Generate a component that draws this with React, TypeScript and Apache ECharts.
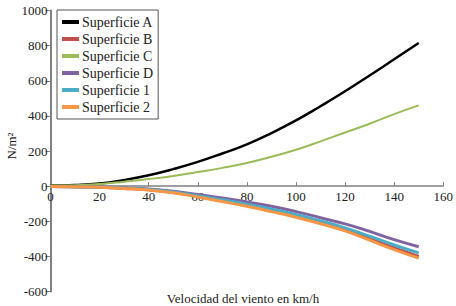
import React, { useEffect, useRef } from "react";
import * as echarts from "echarts";

const speeds = [0, 10, 20, 30, 40, 50, 60, 70, 80, 90, 100, 110, 120, 130, 140, 150];
const superficieA = [3, 6, 15, 35, 62, 97, 138, 186, 238, 302, 374, 455, 540, 630, 722, 815];
const superficieB = [-2, -3, -7, -13, -21, -36, -58, -83, -110, -140, -172, -209, -250, -300, -352, -400];
const superficieC = [3, 5, 12, 25, 40, 58, 80, 104, 132, 167, 207, 255, 305, 355, 410, 460];
const superficieD = [-2, -3, -6, -10, -16, -29, -48, -68, -90, -115, -145, -180, -215, -258, -305, -345];
const superficie1 = [-2, -3, -7, -12, -19, -33, -54, -78, -103, -130, -162, -198, -238, -285, -335, -380];
const superficie2 = [-2, -3, -7, -13, -22, -38, -62, -88, -115, -145, -177, -214, -255, -308, -362, -410];

const names = ["Superficie A", "Superficie B", "Superficie C", "Superficie D", "Superficie 1", "Superficie 2"];
const colors = ["#000000", "#C0504D", "#9BBB59", "#8064A2", "#4BACC6", "#F79646"];
const seriesData = [superficieA, superficieB, superficieC, superficieD, superficie1, superficie2];
const widths = [2.5, 3, 2, 3, 3, 3];

const yTicks = { min: -600, max: 1000, interval: 200 };
const xTicks = { min: 0, max: 160, interval: 20 };

const FONT = "Liberation Serif";

export default function App() {
  const ref = useRef<HTMLDivElement>(null);
  useEffect(() => {
    if (!ref.current) return;
    const chart = echarts.init(ref.current, undefined, { renderer: "svg" });
    const gridTop = 10.5;
    const gridBottom = 14.5;
    const plotH = 306 - gridTop - gridBottom;
    const zeroFromBottom = (plotH * (0 - yTicks.min)) / (yTicks.max - yTicks.min);
    chart.setOption({
      animation: false,
      backgroundColor: "#ffffff",
      textStyle: { fontFamily: FONT },
      grid: { left: 50.5, right: 11, top: gridTop, bottom: gridBottom, containLabel: false },
      legend: {
        orient: "vertical",
        left: 57,
        top: 10,
        data: names,
        icon: "rect",
        itemWidth: 17,
        itemHeight: 4,
        itemGap: 3,
        padding: [5, 5, 5, 5],
        borderColor: "#555555",
        borderWidth: 1,
        backgroundColor: "#ffffff",
        textStyle: { fontFamily: FONT, fontSize: 14, color: "#222222", padding: [0, 0, 0, -2] },
      },
      xAxis: {
        type: "value",
        min: xTicks.min,
        max: xTicks.max,
        interval: xTicks.interval,
        position: "bottom",
        offset: -zeroFromBottom,
        splitLine: { show: false },
        axisLine: { onZero: false, lineStyle: { color: "#808080", width: 1.5 } },
        axisTick: { inside: true, length: 4, lineStyle: { color: "#808080" } },
        axisLabel: { fontFamily: FONT, fontSize: 13, color: "#222222", margin: 4, formatter: (v: number) => String(v) },
      },
      yAxis: {
        type: "value",
        min: yTicks.min,
        max: yTicks.max,
        interval: yTicks.interval,
        splitLine: { show: false },
        axisLine: { show: true, onZero: false, lineStyle: { color: "#808080", width: 2 } },
        axisTick: { show: true, length: 5, lineStyle: { color: "#808080" } },
        axisLabel: { fontFamily: FONT, fontSize: 13, color: "#222222", margin: 3, formatter: (v: number) => String(v) },
      },
      graphic: [
        {
          type: "text",
          x: 11,
          y: 146,
          rotation: Math.PI / 2,
          style: {
            text: "N/m²",
            fontFamily: FONT,
            fontSize: 13,
            fill: "#222222",
            align: "center",
            verticalAlign: "middle",
          },
        },
        {
          type: "text",
          x: 243,
          y: 298,
          style: {
            text: "Velocidad del viento en km/h",
            fontFamily: FONT,
            fontSize: 13,
            fill: "#222222",
            align: "center",
            verticalAlign: "middle",
          },
        },
      ],
      series: names.map((name, i) => ({
        name,
        type: "line",
        smooth: true,
        showSymbol: false,
        symbol: "none",
        color: colors[i],
        lineStyle: { color: colors[i], width: widths[i] },
        data: speeds.map((s, j) => [s, seriesData[i][j]]),
        z: 3 + i,
      })),
    });
    return () => chart.dispose();
  }, []);
  return <div ref={ref} style={{ position: "absolute", left: 0, top: 0, width: 456, height: 306 }} />;
}
